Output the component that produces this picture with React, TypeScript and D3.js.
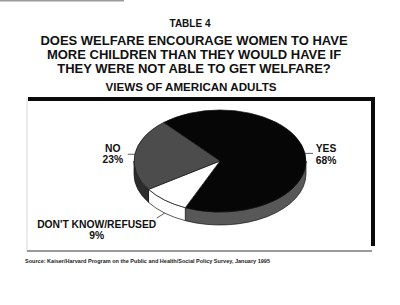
import React from "react";
import * as d3 from "d3";

const categories = ["YES", "DON'T KNOW/REFUSED", "NO"];
const values = [68, 9, 23];
const tableLabel = "TABLE 4";
const titleLines = [
  "DOES WELFARE ENCOURAGE WOMEN TO HAVE",
  "MORE CHILDREN THAN THEY WOULD HAVE IF",
  "THEY WERE NOT ABLE TO GET WELFARE?",
];
const subtitle = "VIEWS OF AMERICAN ADULTS";
const sourceText =
  "Source:  Kaiser/Harvard Program on the Public and Health/Social Policy Survey, January 1995";

const W = 400;
const H = 305;
const FONT = "'Liberation Sans', Arial, Helvetica, sans-serif";
const topColors = ["#060606", "#ffffff", "#4c4c4c"];
const sideColors = ["#585858", "#ffffff", "#2c2c2c"];

// layout for labels: leader offsets and text offsets
const labelLayout = [
  { side: false, ldx: 8, ldy: 0, tx: 13, ty: -1, anchor: "middle" },
  { side: true, ldx: -8, ldy: 5, tx: -60, ty: 10, anchor: "middle" },
  { side: false, ldx: -7, ldy: 0, tx: -15, ty: -2, anchor: "middle" },
];

export default function App() {
  const cx = 220, cy = 161, rx = 86, ry = 51, depth = 13;
  const start = (-41 * Math.PI) / 180;
  const arcs = d3
    .pie<number>()
    .sort(null)
    .startAngle(start)
    .endAngle(start + 2 * Math.PI)(values);

  const pt = (a: number, dy = 0): [number, number] => [
    cx + rx * Math.sin(a),
    cy - ry * Math.cos(a) + dy,
  ];
  const f = (p: [number, number]) => `${p[0].toFixed(2)} ${p[1].toFixed(2)}`;

  const sidePath = (a0: number, a1: number) => {
    const s = Math.max(a0, Math.PI / 2);
    const e = Math.min(a1, (3 * Math.PI) / 2);
    if (e <= s) return null;
    return `M ${f(pt(s))} A ${rx} ${ry} 0 0 1 ${f(pt(e))} L ${f(pt(e, depth))} A ${rx} ${ry} 0 0 0 ${f(pt(s, depth))} Z`;
  };
  const topPath = (a0: number, a1: number) =>
    `M ${cx} ${cy} L ${f(pt(a0))} A ${rx} ${ry} 0 ${a1 - a0 > Math.PI ? 1 : 0} 1 ${f(pt(a1))} Z`;

  return (
    <svg
      width={W}
      height={H}
      style={{ position: "absolute", left: 0, top: 0, background: "#fff" }}
      fontFamily={FONT}
    >
      <rect x={0} y={0} width={W} height={H} fill="#fff" />
      <rect x={0} y={0} width={124} height={1.5} fill="#9a9a9a" />

      <text x={190} y={27} textAnchor="middle" fontSize={10} fontWeight="bold" fill="#111">
        {tableLabel}
      </text>
      {titleLines.map((t, i) => (
        <text key={i} x={194} y={44.5 + i * 14} textAnchor="middle" fontSize={13} fontWeight="bold" fill="#111">
          {t}
        </text>
      ))}
      <text x={191} y={91} textAnchor="middle" fontSize={11.6} fontWeight="bold" fill="#111">
        {subtitle}
      </text>

      {/* frame */}
      <line x1={27} y1={98} x2={27} y2={251} stroke="#cfcfcf" strokeWidth={0.8} />
      <line x1={27} y1={251} x2={372} y2={251} stroke="#777" strokeWidth={1.3} />
      <rect x={28} y={97} width={347} height={4} fill="#0a0a0a" />
      <rect x={371} y={97} width={4} height={149} fill="#0a0a0a" />

      {/* pie sides */}
      {arcs.map((a, i) => {
        const d = sidePath(a.startAngle, a.endAngle);
        return d ? (
          <path key={"s" + i} d={d} fill={sideColors[i]} stroke="#111" strokeWidth={0.7} />
        ) : null;
      })}
      {/* pie tops */}
      {arcs.map((a, i) => (
        <path key={"t" + i} d={topPath(a.startAngle, a.endAngle)} fill={topColors[i]} stroke="#111" strokeWidth={0.7} />
      ))}

      {/* labels */}
      {arcs.map((a, i) => {
        const L = labelLayout[i];
        const mid = (a.startAngle + a.endAngle) / 2;
        const p = pt(mid, L.side ? depth : 0);
        const q: [number, number] = [p[0] + L.ldx, p[1] + L.ldy];
        const lx = q[0] + L.tx;
        const ly = q[1] + L.ty;
        return (
          <g key={"l" + i}>
            <line x1={p[0]} y1={p[1]} x2={q[0]} y2={q[1]} stroke="#333" strokeWidth={0.8} />
            <text x={lx} y={ly} textAnchor={L.anchor as any} fontSize={10.3} fontWeight="bold" fill="#111">
              {categories[i]}
            </text>
            <text x={lx} y={ly + 11.2} textAnchor={L.anchor as any} fontSize={10.3} fontWeight="bold" fill="#111">
              {`${values[i]}%`}
            </text>
          </g>
        );
      })}

      <text x={25} y={263} fontSize={5.2} fontWeight="bold" fill="#222" textLength={245} lengthAdjust="spacingAndGlyphs">
        {sourceText}
      </text>
    </svg>
  );
}
